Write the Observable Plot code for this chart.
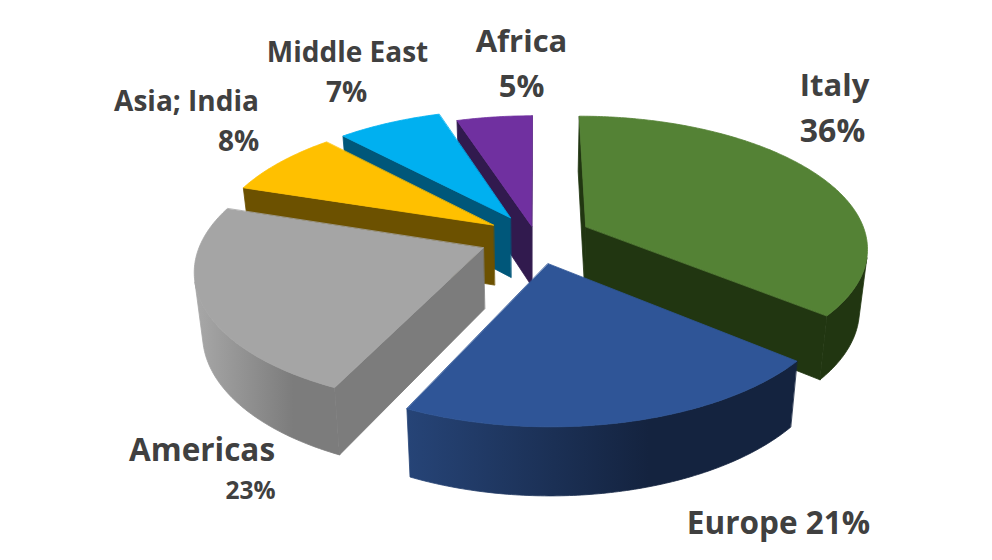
<!DOCTYPE html>
<html>
<head>
<meta charset="utf-8">
<script src="https://cdn.jsdelivr.net/npm/d3@7"></script>
<script src="https://cdn.jsdelivr.net/npm/@observablehq/plot@0.6"></script>
<style>html,body{margin:0;padding:0;background:#fff}svg{display:block}</style>
</head>
<body>
<div id="chart"></div>
<script>
// Data
const categories = ["Italy", "Europe", "Americas", "Asia; India", "Middle East", "Africa"];
const shares = [36, 21, 23, 8, 7, 5];
const topColors = ["#548235", "#2f5597", "#a5a5a5", "#ffc000", "#00b0f0", "#7030a0"];
const faceColors = ["#213611", "#14233f", "#7c7c7c", "#6c5100", "#00577a", "#311a4e"];
const rimLeft = ["#213611", "#264477", "#a8a8a8", "#6c5100", "#00577a", "#311a4e"];
const rimRight = ["#213611", "#14233f", "#7c7c7c", "#6c5100", "#00577a", "#311a4e"];
const rimStop = ["100%", "62%", "68%", "100%", "100%", "100%"];
const paintOrder = [5, 4, 3, 0, 2, 1];
const explode = [0.2, 0.2, 0.2, 0.18, 0.18, 0.09];

// Label text
const labelText = ["Italy", "36%", "Middle East", "7%", "Africa", "5%", "Asia; India", "8%", "Americas", "23%", "Europe 21%"];
const labelX = [834, 832, 347, 346, 521, 521, 186, 238, 201.5, 250, 778];
const labelY = [86, 131, 53, 93, 42, 87, 102, 142, 450, 491, 523];
const labelSize = [31, 32, 28, 28, 31, 31, 28, 28, 31.5, 24.5, 31.5];

// Perspective camera
const cam = {cx: 535, cy: 237, rx: 281, ry: 130, k: 0.15, h: 62, m: 0.025};
function project(X, Y, low) {
  const w = (1 + cam.k * Y) * (low ? 1 + cam.m : 1);
  return [cam.cx + cam.rx * X / w, cam.cy - (cam.ry * Y - (low ? cam.h : 0)) / w];
}
function area(p) {
  let s = 0;
  p.forEach((a, i) => { const b = p[(i + 1) % p.length]; s += a[0] * b[1] - b[0] * a[1]; });
  return s / 2;
}

const polys = [];
let id = 0;
function addPoly(points, color) {
  id++;
  points.forEach(([x, y]) => polys.push({id, x, y, color}));
}
const total = d3.sum(shares);
const starts = Array.from(d3.cumsum([0, ...shares]), v => v / total * 2 * Math.PI);

paintOrder.forEach(i => {
  const t0 = starts[i], t1 = starts[i + 1], mid = (t0 + t1) / 2;
  const ox = explode[i] * Math.sin(mid), oy = explode[i] * Math.cos(mid);
  const n = Math.max(16, Math.round((t1 - t0) * 80));
  const rim = d3.range(n + 1).map(j => {
    const t = t0 + (t1 - t0) * j / n;
    return {X: ox + Math.sin(t), Y: oy + Math.cos(t)};
  });
  const quad = (a, b) => [project(a.X, a.Y, false), project(b.X, b.Y, false), project(b.X, b.Y, true), project(a.X, a.Y, true)];
  const apex = {X: ox, Y: oy};
  // flat cut faces, culled by their winding on screen
  for (const q of [quad(apex, rim[0]), quad(rim[n], apex)]) {
    if (area(q) < 0) addPoly(q, faceColors[i]);
  }
  // outer wall: the part of the rim that faces the viewer, as one shape
  const shown = rim.filter((r, j) => (j < n && area(quad(r, rim[j + 1])) < 0) || (j > 0 && area(quad(rim[j - 1], r)) < 0));
  if (shown.length > 1) {
    addPoly([...shown.map(r => project(r.X, r.Y, false)), ...shown.slice().reverse().map(r => project(r.X, r.Y, true))], `url(#wall${i})`);
  }
  // top
  addPoly([project(apex.X, apex.Y, false), ...rim.map(r => project(r.X, r.Y, false))], topColors[i]);
});

const labels = labelText.map((text, i) => ({text, x: labelX[i], y: labelY[i], size: labelSize[i]}));

// Left-to-right shading of the outer walls
function wallGradients() {
  const defs = d3.create("svg:defs");
  categories.forEach((c, i) => {
    const g = defs.append("linearGradient").attr("id", `wall${i}`);
    g.append("stop").attr("offset", "0%").attr("stop-color", rimLeft[i]);
    g.append("stop").attr("offset", rimStop[i]).attr("stop-color", rimRight[i]);
  });
  return defs.node();
}

const plot = Plot.plot({
  width: 992, height: 560,
  margin: 0,
  x: {domain: [0, 992], range: [0, 992], axis: null},
  y: {domain: [0, 560], range: [0, 560], axis: null},
  color: {type: "identity"},
  marks: [
    wallGradients,
    Plot.line(polys, {x: "x", y: "y", z: "id", fill: "color", stroke: "color", strokeWidth: 0.8, curve: "linear-closed"}),
    Plot.text(labels, {x: "x", y: "y", text: "text", fontSize: "size", fontWeight: 700, fontFamily: "'Open Sans'", fill: "#404040"})
  ]
});
document.getElementById("chart").append(plot);
</script>
</body>
</html>
